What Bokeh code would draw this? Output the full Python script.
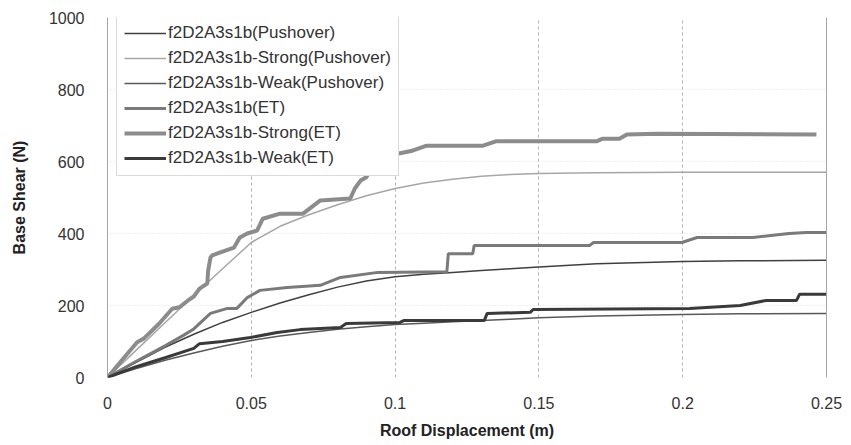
from bokeh.plotting import figure
from bokeh.models import Legend, LegendItem, FixedTicker, NumeralTickFormatter, LinearAxis, Range1d
from bokeh.embed import file_html
from bokeh.resources import INLINE

# ---------------- data ----------------
x_ticks = [0, 0.05, 0.1, 0.15, 0.2, 0.25]
y_ticks = [0, 200, 400, 600, 800, 1000]

series_names = [
    "f2D2A3s1b(Pushover)",
    "f2D2A3s1b-Strong(Pushover)",
    "f2D2A3s1b-Weak(Pushover)",
    "f2D2A3s1b(ET)",
    "f2D2A3s1b-Strong(ET)",
    "f2D2A3s1b-Weak(ET)",
]

push_x = [0, 0.01, 0.02, 0.03, 0.04, 0.05, 0.06, 0.07, 0.08, 0.09, 0.10, 0.11, 0.12,
          0.13, 0.14, 0.15, 0.17, 0.20, 0.22, 0.25]
push_mid_y = [0, 42, 84, 120, 153, 181, 207, 230, 251, 268, 280, 287, 292,
              297, 302, 307, 316, 322, 324, 326]
push_strong_y = [0, 76, 152, 228, 302, 375, 420, 452, 480, 505, 525, 540, 551,
                 559, 564, 567, 569, 570, 570, 570]
push_weak_y = [0, 25, 48, 68, 87, 103, 115, 125, 134, 141, 147, 151, 155,
               158, 162, 166, 171, 175, 177, 178]

et_mid_x = [0, 0.01, 0.02, 0.0264, 0.030, 0.0358, 0.0417, 0.045, 0.0486, 0.053, 0.0625,
            0.074, 0.081, 0.094, 0.118, 0.1185, 0.127, 0.1275, 0.1677, 0.169, 0.1997,
            0.205, 0.2243, 0.237, 0.243, 0.25]
et_mid_y = [0, 45, 88, 117, 135, 178, 192, 192, 222, 242, 250,
            256, 278, 292, 294, 344, 344, 367, 367, 375, 375,
            389, 389, 400, 403, 403]

et_strong_x = [0, 0.005, 0.0103, 0.0126, 0.018, 0.0225, 0.025, 0.028, 0.030, 0.032, 0.0347,
               0.035, 0.0358, 0.0364, 0.039, 0.044, 0.046, 0.0486, 0.052, 0.054, 0.060,
               0.068, 0.074, 0.0844, 0.086, 0.088, 0.090, 0.093, 0.100, 0.106, 0.111,
               0.1306, 0.135, 0.170, 0.172, 0.178, 0.1806, 0.191, 0.2465]
et_strong_y = [0, 48, 98, 108, 150, 191, 195, 214, 225, 247, 261,
               297, 333, 339, 347, 361, 389, 400, 408, 441, 455,
               455, 492, 497, 525, 547, 556, 600, 620, 630, 644,
               644, 656, 656, 663, 663, 675, 677, 675]

et_weak_x = [0, 0.01, 0.02, 0.030, 0.032, 0.040, 0.0497, 0.059, 0.067, 0.081, 0.083,
             0.1017, 0.103, 0.131, 0.132, 0.147, 0.148, 0.2024, 0.22, 0.229, 0.2396,
             0.2406, 0.25]
et_weak_y = [0, 30, 55, 81, 94, 100, 111, 125, 133, 139, 150,
             153, 158, 158, 178, 181, 189, 192, 200, 214, 214,
             231, 231]

colors = ["#404040", "#a6a6a6", "#595959", "#7a7a7a", "#8c8c8c", "#3a3a3a"]
widths = [1.5, 1.5, 1.5, 3, 4, 3]

FONT = "Liberation Sans"

p = figure(width=851, height=445, output_backend="svg", toolbar_location=None,
           x_range=Range1d(0, 0.25), y_range=Range1d(0, 1000),
           min_border_left=107, min_border_right=25, min_border_top=17, min_border_bottom=68)
p.outline_line_color = None
p.background_fill_color = "white"
p.border_fill_color = "white"

xs = [push_x, push_x, push_x, et_mid_x, et_strong_x, et_weak_x]
ys = [push_mid_y, push_strong_y, push_weak_y, et_mid_y, et_strong_y, et_weak_y]
renderers = []
for xv, yv, c, w in zip(xs, ys, colors, widths):
    r = p.line(xv, yv, line_color=c, line_width=w)
    renderers.append(r)

# axes
p.xaxis.ticker = FixedTicker(ticks=x_ticks)
p.yaxis.ticker = FixedTicker(ticks=y_ticks)
p.xaxis.formatter = NumeralTickFormatter(format="0.[00]")
for ax in (p.xaxis[0], p.yaxis[0]):
    ax.major_tick_line_color = None
    ax.minor_tick_line_color = None
    ax.major_label_text_font = FONT
    ax.major_label_text_font_size = "16px"
    ax.major_label_text_color = "#333333"
    ax.axis_label_text_font = FONT
    ax.axis_label_text_font_size = "16px"
    ax.axis_label_text_font_style = "bold"
    ax.axis_label_text_color = "#222222"
p.xaxis.axis_label = "Roof Displacement (m)"
p.yaxis.axis_label = "Base Shear (N)"
p.xaxis.axis_line_color = None
p.yaxis.axis_line_color = "#a6a6a6"
p.xaxis.major_label_standoff = 13
p.xaxis.axis_label_standoff = 10
p.yaxis.major_label_standoff = 17
p.yaxis.axis_label_standoff = 18

right = LinearAxis(ticker=FixedTicker(ticks=[]), axis_line_color="#a6a6a6",
                   major_tick_line_color=None, minor_tick_line_color=None,
                   major_label_text_font_size="0px")
p.add_layout(right, "right")

# grids
p.xgrid.ticker = FixedTicker(ticks=x_ticks[1:-1])
p.xgrid.grid_line_color = "#b3b3b3"
p.xgrid.grid_line_dash = "3 3"
p.ygrid.ticker = FixedTicker(ticks=y_ticks[1:-1])
p.ygrid.grid_line_color = "#e0e0e0"
p.ygrid.grid_line_dash = "1 2"

# legend
items = [LegendItem(label=n, renderers=[r]) for n, r in zip(series_names, renderers)]
legend = Legend(items=items, location=(9, 201), orientation="vertical",
                label_text_font=FONT, label_text_font_size="17px", label_text_color="#333333",
                glyph_width=42, glyph_height=20, label_height=20, label_standoff=2,
                spacing=5, padding=7, margin=0,
                border_line_color="#b8b8b8", border_line_width=1,
                background_fill_color="white", background_fill_alpha=1.0)
p.add_layout(legend, "center")

open("out.html", "w").write(file_html(p, INLINE))
